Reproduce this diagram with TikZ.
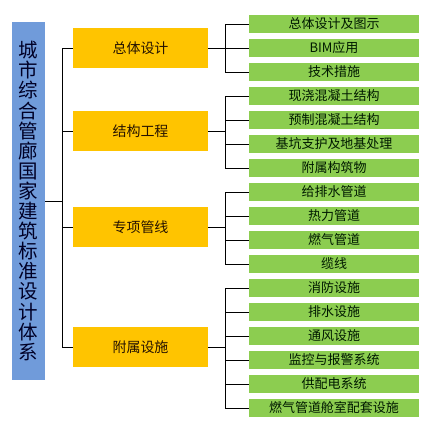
\documentclass[tikz,border=0pt]{standalone}
\usepackage{fontspec}
\newfontfamily\cjk{Noto Sans CJK SC}
\definecolor{rootblue}{RGB}{112,155,218}
\definecolor{mainyellow}{RGB}{255,196,0}
\definecolor{subgreen}{RGB}{140,205,80}
\begin{document}
\begin{tikzpicture}[x=1pt, y=-1pt,
  root/.style={fill=rootblue, minimum width=33pt, minimum height=358pt, inner sep=0pt,
    text width=20pt, align=center, text=black!85!blue, font=\cjk\fontsize{19.5}{20.1}\selectfont},
  main/.style={fill=mainyellow, minimum width=135pt, minimum height=40pt, inner sep=0pt,
    text=black!85!orange, font=\cjk\fontsize{14}{16}\selectfont},
  sub/.style={fill=subgreen, minimum width=170pt, minimum height=18pt, inner sep=0pt,
    text=black!90!green, font=\cjk\fontsize{13}{15}\selectfont},
  link/.style={black, line width=0.8pt}]
\useasboundingbox (0,0) rectangle (432,428);

\node[root] (city) at (28.5,201) {城\\市\\综\\合\\管\\廊\\国\\家\\建\\筑\\标\\准\\设\\计\\体\\系};

\node[main] (overall) at (140.5,48) {总体设计};
\node[main] (struct) at (140.5,131) {结构工程};
\node[main] (pipes) at (140.5,227) {专项管线};
\node[main] (aux) at (140.5,347) {附属设施};

\node[sub] (s1) at (334,24) {总体设计及图示};
\node[sub] (s2) at (334,48) {BIM应用};
\node[sub] (s3) at (334,72) {技术措施};
\node[sub] (s4) at (334,96) {现浇混凝土结构};
\node[sub] (s5) at (334,120) {预制混凝土结构};
\node[sub] (s6) at (334,144) {基坑支护及地基处理};
\node[sub] (s7) at (334,168) {附属构筑物};
\node[sub] (s8) at (334,192) {给排水管道};
\node[sub] (s9) at (334,216) {热力管道};
\node[sub] (s10) at (334,240) {燃气管道};
\node[sub] (s11) at (334,264) {缆线};
\node[sub] (s12) at (334,288) {消防设施};
\node[sub] (s13) at (334,312) {排水设施};
\node[sub] (s14) at (334,336) {通风设施};
\node[sub] (s15) at (334,360) {监控与报警系统};
\node[sub] (s16) at (334,384) {供配电系统};
\node[sub] (s17) at (334,408) {燃气管道舱室配套设施};

% left bracket
\coordinate (fork) at (62,201);
\draw[link] (city.east) -- (fork);
\draw[link] (overall.west) -| (fork);
\draw[link] (aux.west) -| (fork);
\draw[link] (struct.west) -- (struct.west -| fork);
\draw[link] (pipes.west) -- (pipes.west -| fork);

% right brackets
\coordinate (fork1) at (225,48);
\draw[link] (overall.east) -- (fork1);
\draw[link] (s1.west) -| (fork1);
\draw[link] (s3.west) -| (fork1);
\draw[link] (s2.west) -- (s2.west -| fork1);

\coordinate (fork2) at (225,131);
\draw[link] (struct.east) -- (fork2);
\draw[link] (s4.west) -| (fork2);
\draw[link] (s7.west) -| (fork2);
\draw[link] (s5.west) -- (s5.west -| fork2);
\draw[link] (s6.west) -- (s6.west -| fork2);

\coordinate (fork3) at (225,227);
\draw[link] (pipes.east) -- (fork3);
\draw[link] (s8.west) -| (fork3);
\draw[link] (s11.west) -| (fork3);
\draw[link] (s9.west) -- (s9.west -| fork3);
\draw[link] (s10.west) -- (s10.west -| fork3);

\coordinate (fork4) at (225,347);
\draw[link] (aux.east) -- (fork4);
\draw[link] (s12.west) -| (fork4);
\draw[link] (s17.west) -| (fork4);
\draw[link] (s13.west) -- (s13.west -| fork4);
\draw[link] (s14.west) -- (s14.west -| fork4);
\draw[link] (s15.west) -- (s15.west -| fork4);
\draw[link] (s16.west) -- (s16.west -| fork4);
\end{tikzpicture}
\end{document}
